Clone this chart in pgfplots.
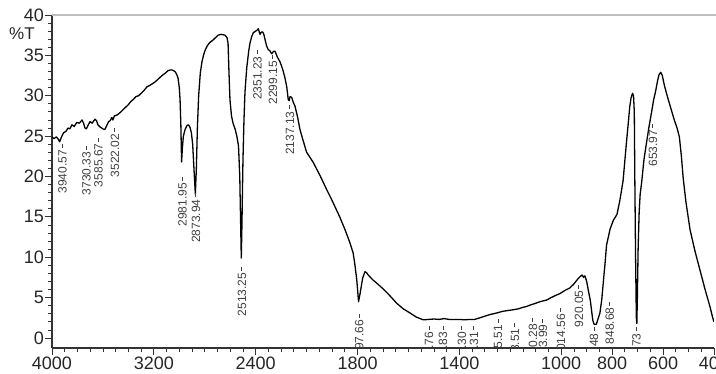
\documentclass[border=0pt]{standalone}
\usepackage{fontspec}
\setmainfont{Liberation Sans}
\usepackage{pgfplots}
\pgfplotsset{compat=1.18}
\tikzset{lab/.style={rotate=90, anchor=east, inner sep=0.5bp,
    font=\fontsize{12bp}{12bp}\selectfont, text=black!75}}
\newcommand{\ld}{\,\rule[0.35em]{4bp}{0.5bp}}
\begin{document}
\begin{tikzpicture}
\useasboundingbox (-52bp,-26bp) rectangle (664bp,348bp);
\begin{axis}[
  name=ax, at={(0,0)}, anchor=south west, scale only axis,
  width=662bp, height=333bp,
  x coord trafo/.code={\pgfmathparse{#1>2000 ? 1000+#1/2 : #1}},
  x coord inv trafo/.code={\pgfmathparse{#1>2000 ? 2*#1-2000 : #1}},
  xmin=400, xmax=4000, x dir=reverse,
  ymin=-1.24, ymax=40,
  xtick={4000,3200,2400,1800,1400,1000,800,600,400},
  xticklabels={4000,3200,2400,1800,1400,1000,800,600,400},
  minor xtick={3900,3800,...,2100,2000,1950,1900,...,450},
  ytick={0,5,...,40},
  minor y tick num=4,
  axis x line*=bottom, axis y line*=left,
  axis line style={line width=1.1bp, black!80},
  tick align=outside,
  major tick length=7bp, minor tick length=4bp,
  every tick/.style={black!80, line width=0.8bp},
  /pgf/number format/assume math mode=true,
  tick label style={font=\fontsize{18bp}{18bp}\selectfont, text=black!85},
  xticklabel style={inner sep=1bp, yshift=-1bp},
  yticklabel style={inner sep=1bp},
]
\addplot[black, line width=1.3bp, line join=round] coordinates {
(4000,24.9)(3985,24.7)(3965,24.9)(3950,24.6)(3940,24.3)(3928,24.8)(3910,25.4)
(3890,25.6)(3874,26.0)(3860,25.9)(3843,26.4)(3825,26.2)(3805,26.7)(3785,26.6)
(3764,27.0)(3752,26.6)(3741,26.0)(3730,25.9)(3718,26.3)(3701,26.8)(3685,26.6)
(3662,27.1)(3650,26.9)(3639,26.4)(3620,26.1)(3600,25.9)(3586,25.8)(3570,26.3)
(3555,26.8)(3544,26.9)(3530,27.3)(3522,27.0)(3510,27.5)(3490,27.6)(3466,27.9)
(3440,28.3)(3420,28.6)(3400,28.9)(3380,29.3)(3364,29.5)(3340,29.9)(3320,30.0)
(3300,30.3)(3280,30.6)(3254,31.1)(3230,31.3)(3210,31.5)(3191,31.7)(3170,32.0)
(3150,32.3)(3128,32.6)(3110,32.8)(3089,33.1)(3070,33.2)(3057,33.2)(3045,33.1)
(3034,33.0)(3022,32.7)(3010,32.2)(3000,31.0)(2994,29.5)(2988,26.5)(2982,21.8)
(2976,23.5)(2968,25.0)(2955,25.8)(2940,26.3)(2928,26.4)(2916,26.1)(2905,25.4)
(2895,24.0)(2885,21.0)(2874,17.8)(2866,21.0)(2858,26.0)(2848,30.0)(2835,32.8)
(2822,34.2)(2810,35.0)(2798,35.6)(2780,36.2)(2760,36.6)(2735,36.9)(2715,37.2)
(2696,37.5)(2670,37.6)(2641,37.5)(2625,37.2)(2617,36.5)(2610,33.0)(2602,29.5)
(2590,27.5)(2578,26.6)(2560,25.8)(2547,24.9)(2535,23.8)(2525,20.0)(2518,14.0)
(2513,9.9)(2508,14.0)(2500,22.0)(2492,27.0)(2484,30.5)(2470,33.5)(2455,35.5)
(2445,36.5)(2432,37.3)(2419,37.8)(2400,38.0)(2390,38.1)(2379,38.3)(2372,37.9)
(2366,37.6)(2355,37.9)(2345,37.9)(2336,37.6)(2327,37.0)(2315,36.2)(2301,35.7)
(2290,35.6)(2274,35.2)(2260,35.5)(2248,35.5)(2230,34.8)(2209,34.2)(2195,33.6)
(2183,33.0)(2170,32.2)(2156,31.1)(2144,29.5)(2137,29.4)(2130,29.9)(2117,29.8)
(2105,29.2)(2091,28.7)(2070,27.3)(2052,25.8)(2030,24.6)(2000,23.0)(1975,21.8)
(1947,20.1)(1920,18.3)(1901,17.1)(1870,15.0)(1849,13.4)(1830,11.8)(1817,10.5)
(1810,9.0)(1803,7.2)(1796,4.5)(1790,5.5)(1780,7.4)(1771,8.2)(1765,8.1)
(1758,7.8)(1740,7.2)(1725,6.8)(1700,6.1)(1675,5.3)(1646,4.3)(1620,3.6)
(1594,3.1)(1570,2.6)(1542,2.25)(1520,2.3)(1500,2.35)(1480,2.3)(1460,2.4)
(1440,2.3)(1420,2.3)(1400,2.3)(1380,2.25)(1360,2.3)(1340,2.3)(1319,2.5)
(1300,2.7)(1280,2.9)(1253,3.1)(1230,3.3)(1210,3.4)(1188,3.5)(1170,3.6)
(1150,3.8)(1136,3.9)(1120,4.1)(1100,4.3)(1083,4.5)(1070,4.6)(1057,4.7)
(1040,5.0)(1020,5.3)(1005,5.5)(985,5.9)(966,6.2)(950,6.7)(935,7.3)
(926,7.6)(918,7.8)(912,7.5)(907,7.7)(900,7.0)(893,5.8)(886,4.7)
(876,2.2)(871,1.7)(862,1.7)(855,2.4)(848,3.1)(841,4.7)(835,6.8)
(828,9.2)(822,11.5)(808,13.5)(795,14.6)(781,15.3)(770,17.0)(762,18.5)
(757,19.5)(750,22.0)(743,24.5)(737,26.5)(731,28.6)(726,29.7)(720,30.3)
(716,30.0)(713,28.0)(711,20.0)(708,10.0)(705,2.5)(703,1.8)(701,5.0)
(698,11.0)(694,15.5)(690,17.8)(684,19.3)(675,22.1)(665,24.2)(655,26.2)
(645,28.0)(637,29.5)(629,30.6)(622,31.8)(616,32.6)(609,32.9)(603,32.5)
(595,31.3)(583,29.9)(570,28.5)(556,27.0)(545,26.0)(536,24.9)(528,22.5)
(521,19.8)(510,16.8)(494,13.4)(475,10.8)(455,8.4)(435,6.0)(416,3.9)
(405,2.5)(400,2.0)
};
\node[lab] at (axis cs:3918,24.1) {3940.57\ld};
\node[lab] at (axis cs:3729,23.9) {3730.33\ld};
\node[lab] at (axis cs:3634,24.9) {3585.67\ld};
\node[lab] at (axis cs:3505,26.1) {3522.02\ld};
\node[lab] at (axis cs:2975,20.0) {2981.95\ld};
\node[lab] at (axis cs:2869,18.0) {2873.94\ld};
\node[lab] at (axis cs:2508,8.9) {2513.25\ld};
\node[lab] at (axis cs:2386,35.7) {2351.23\ld};
\node[lab] at (axis cs:2264,35.1) {2299.15\ld};
\node[lab] at (axis cs:2130,28.9) {2137.13\ld};
\node[lab] at (axis cs:1793,3.1) {1797.66\ld};
\node[lab] at (axis cs:1519,1.6) {1517.76\ld};
\node[lab] at (axis cs:1464,1.6) {1463.83\ld};
\node[lab] at (axis cs:1390,1.6) {1390.30\ld};
\node[lab] at (axis cs:1343,1.6) {1344.31\ld};
\node[lab] at (axis cs:1248,2.4) {1245.51\ld};
\node[lab] at (axis cs:1182,2.0) {1183.51\ld};
\node[lab] at (axis cs:1111,2.6) {1110.28\ld};
\node[lab] at (axis cs:1072,2.5) {1073.99\ld};
\node[lab] at (axis cs:1001,3.8) {1014.56\ld};
\node[lab] at (axis cs:930,6.7) {920.05\ld};
\node[lab] at (axis cs:871,1.4) {866.48\ld};
\node[lab] at (axis cs:809,4.6) {848.68\ld};
\node[lab] at (axis cs:704,1.4) {702.73\ld};
\node[lab] at (axis cs:640,26.6) {653.97\ld};
\end{axis}
\draw[black!25, line width=1.8bp] (ax.north west) -- ([xshift=20bp]ax.north east);
\node[font=\fontsize{17bp}{17bp}\selectfont, text=black!85] at ([xshift=-30bp,yshift=-19bp]ax.north west) {\%T};
\end{tikzpicture}
\end{document}
